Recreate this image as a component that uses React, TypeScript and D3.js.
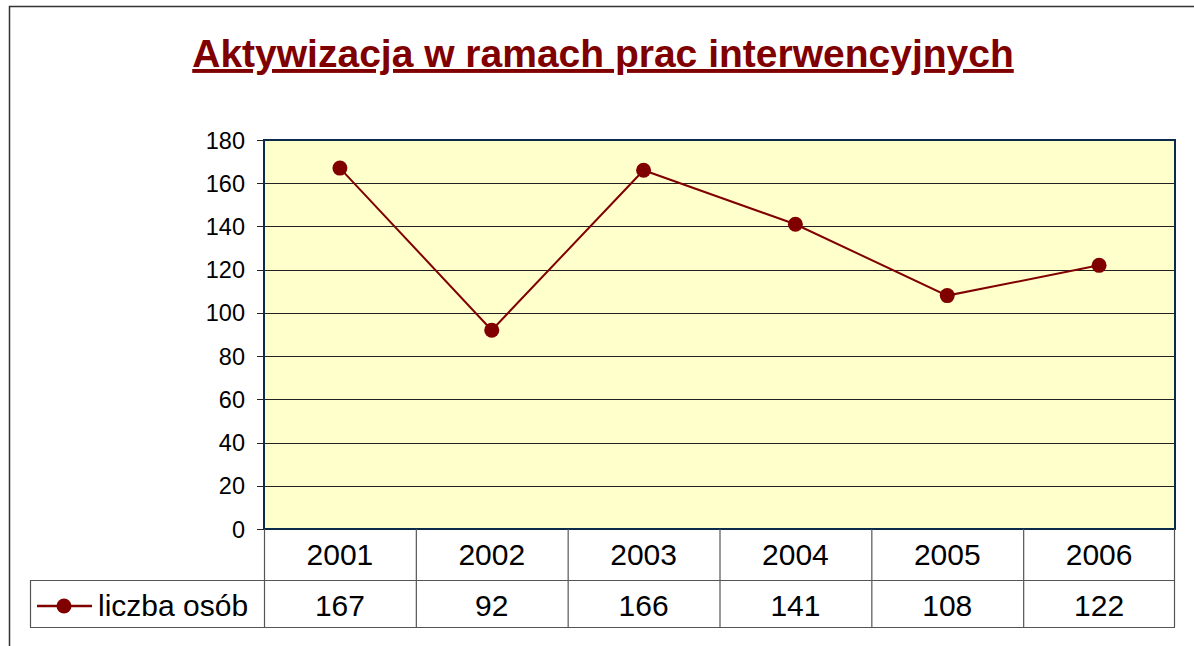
import React from "react";
import * as d3 from "d3";

const years = ["2001", "2002", "2003", "2004", "2005", "2006"];
const values = [167, 92, 166, 141, 108, 122];
const yTicks = [0, 20, 40, 60, 80, 100, 120, 140, 160, 180];
const seriesName = "liczba osób";
const title = "Aktywizacja w ramach prac interwencyjnych";

const W = 1194, H = 646;
const plot = { left: 264, right: 1175, top: 140, bottom: 529 };
const tableRow1 = 580, tableBottom = 627, legendLeft = 30;
const RED = "#800000";
const FONT = "Arial, 'Liberation Sans', sans-serif";

export default function App() {
  const x = d3.scaleBand<string>().domain(years).range([plot.left, plot.right]);
  const y = d3.scaleLinear().domain([0, 180]).range([plot.bottom, plot.top]);
  const line = d3.line<number>()
    .x((_, i) => (x(years[i]) as number) + x.bandwidth() / 2)
    .y((d) => y(d));

  return (
    <svg width={W} height={H} style={{ position: "absolute", left: 0, top: 0 }} fontFamily={FONT}>
      <rect x={0} y={0} width={W} height={H} fill="#fff" />
      <rect x={9.5} y={6.5} width={1200} height={660} fill="none" stroke="#333" strokeWidth={1.5} />
      <text x={603} y={67} textAnchor="middle" fontSize={39} fontWeight="bold" fill={RED}
        textDecoration="underline">{title}</text>
      <rect x={plot.left} y={plot.top} width={plot.right - plot.left} height={plot.bottom - plot.top}
        fill="#ffffcc" />
      {yTicks.map((t) => (
        <g key={t}>
          {t > 0 && t < 180 && (
            <line x1={plot.left} x2={plot.right} y1={Math.round(y(t)) + 0.5} y2={Math.round(y(t)) + 0.5}
              stroke="#222" strokeWidth={1} />
          )}
          <line x1={plot.left - 7} x2={plot.left} y1={Math.round(y(t)) + 0.5} y2={Math.round(y(t)) + 0.5}
            stroke="#222" strokeWidth={1} />
          <text x={245} y={y(t) + 8.5} textAnchor="end" fontSize={23.5} fill="#000">{t}</text>
        </g>
      ))}
      <rect x={plot.left} y={plot.top} width={plot.right - plot.left} height={plot.bottom - plot.top}
        fill="none" stroke="#0b2a4c" strokeWidth={2} />
      <path d={line(values) || ""} fill="none" stroke={RED} strokeWidth={2} />
      {values.map((v, i) => (
        <circle key={i} cx={(x(years[i]) as number) + x.bandwidth() / 2} cy={y(v)} r={7.5} fill={RED} />
      ))}
      {/* data table */}
      <g stroke="#555" strokeWidth={1.2}>
        {years.map((yr) => (
          <line key={yr} x1={(x(yr) as number) + 0.5} x2={(x(yr) as number) + 0.5} y1={plot.bottom} y2={tableBottom} />
        ))}
        <line x1={plot.right - 0.5} x2={plot.right - 0.5} y1={plot.bottom} y2={tableBottom} />
        <line x1={legendLeft} x2={plot.right} y1={tableRow1 + 0.5} y2={tableRow1 + 0.5} />
        <line x1={legendLeft} x2={plot.right} y1={tableBottom + 0.5} y2={tableBottom + 0.5} />
        <line x1={legendLeft + 0.5} x2={legendLeft + 0.5} y1={tableRow1} y2={tableBottom} />
      </g>
      {years.map((yr, i) => (
        <g key={yr}>
          <text x={(x(yr) as number) + x.bandwidth() / 2} y={565} textAnchor="middle" fontSize={30} fill="#000">{yr}</text>
          <text x={(x(yr) as number) + x.bandwidth() / 2} y={616} textAnchor="middle" fontSize={30} fill="#000">{values[i]}</text>
        </g>
      ))}
      <line x1={37} x2={92} y1={606} y2={606} stroke={RED} strokeWidth={2.5} />
      <circle cx={64} cy={606} r={7.5} fill={RED} />
      <text x={98} y={616} fontSize={30} fill="#000">{seriesName}</text>
    </svg>
  );
}
